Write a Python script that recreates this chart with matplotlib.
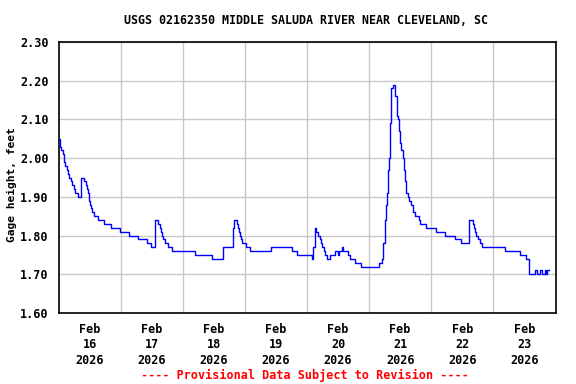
import matplotlib
matplotlib.use("Agg")
import matplotlib.pyplot as plt
import numpy as np

# hours since Feb 16 2026 00:00, gage height (ft) -- step changes
hours = [0.0, 0.4, 0.75, 1.15, 1.55, 1.95, 2.3, 2.7, 3.1, 3.5, 4.05, 4.65, 5.2, 6.0, 6.55,
         7.55, 8.8, 10.0, 10.65, 11.15, 11.5, 11.7, 12.05, 12.55, 13.05, 13.85, 15.15,
         17.6, 20.3, 23.8, 27.25, 30.75, 34.25, 35.75, 37.3, 38.5, 39.25, 39.65, 40.0,
         40.4, 41.0, 42.35, 43.9, 52.8, 59.35, 63.4, 63.7, 67.45, 67.85, 68.9, 69.5,
         69.8, 70.2, 70.55, 70.95, 72.3, 74.05, 82.05, 90.15, 92.1, 98.0, 98.5, 99.0,
         99.55, 100.35, 100.9, 101.5, 101.9, 102.4, 103.05, 103.65, 105.0, 106.9, 108.05,
         108.45, 109.5, 110.1, 111.65, 112.7, 114.65, 116.85, 123.75, 124.95, 125.35,
         125.95, 126.25, 126.65, 126.9, 127.3, 127.8, 128.2, 128.55, 129.05, 129.75,
         130.1, 130.75, 131.15, 131.65, 132.05, 132.45, 132.95, 133.3, 133.7, 134.25,
         134.85, 135.55, 136.2, 136.8, 137.85, 139.4, 139.8, 142.1, 146.0, 149.15,
         153.3, 155.5, 158.45, 160.15, 160.65, 161.05, 161.3, 161.95, 162.7, 163.65,
         172.65, 178.15, 180.75, 181.65, 184.25, 184.8, 186.15, 186.95, 188.1, 188.5,
         188.9, 189.65]
gage = [2.05, 2.04, 2.03, 2.02, 2.01, 2.00, 1.99, 1.98, 1.97, 1.96, 1.95, 1.94, 1.93, 1.92, 1.91,
        1.90, 1.95, 1.94, 1.93, 1.92, 1.91, 1.89, 1.88, 1.87, 1.86, 1.85, 1.84,
        1.83, 1.82, 1.81, 1.80, 1.79, 1.78, 1.77, 1.84, 1.83, 1.82, 1.81, 1.80,
        1.79, 1.78, 1.77, 1.76, 1.75, 1.74, 1.76, 1.77, 1.82, 1.84, 1.83, 1.82,
        1.81, 1.80, 1.79, 1.78, 1.77, 1.76, 1.77, 1.76, 1.75, 1.74, 1.77, 1.82,
        1.81, 1.80, 1.79, 1.78, 1.77, 1.76, 1.75, 1.74, 1.75, 1.76, 1.75,
        1.76, 1.77, 1.76, 1.75, 1.74, 1.73, 1.72, 1.73, 1.74, 1.78,
        1.79, 1.84, 1.88, 1.91, 1.97, 2.00, 2.09, 2.18, 2.19, 2.19,
        2.16, 2.11, 2.10, 2.07, 2.04, 2.02, 2.00, 1.97, 1.94, 1.91,
        1.90, 1.89, 1.88, 1.86, 1.85, 1.84, 1.83, 1.82, 1.81, 1.80,
        1.79, 1.78, 1.84, 1.83, 1.82, 1.81, 1.80, 1.79, 1.78, 1.77,
        1.76, 1.75, 1.74, 1.70, 1.71, 1.70, 1.71, 1.70, 1.71, 1.70,
        1.71, 1.71]

day_labels = ["Feb\n16\n2026", "Feb\n17\n2026", "Feb\n18\n2026", "Feb\n19\n2026",
              "Feb\n20\n2026", "Feb\n21\n2026", "Feb\n22\n2026", "Feb\n23\n2026"]
y_ticks = [1.60, 1.70, 1.80, 1.90, 2.00, 2.10, 2.20, 2.30]

mono = "DejaVu Sans Mono"
fig = plt.figure(figsize=(5.76, 3.84), dpi=100)
ax = fig.add_axes([58.5/576, 1-313/384, (555.5-58.5)/576, (313-42)/384])

ax.plot(hours, gage, color="#0000ff", lw=1.0, drawstyle="steps-post", zorder=3)

ax.set_xlim(0, 192)
ax.set_ylim(1.60, 2.30)
ax.set_yticks(y_ticks)
ax.set_yticklabels([f"{v:.2f}" for v in y_ticks], family=mono, fontweight="bold", fontsize=8.5)
ax.set_xticks([12 + 24*i for i in range(len(day_labels))])
ax.set_xticklabels(day_labels, family=mono, fontweight="bold", fontsize=8.5, linespacing=1.25)
ax.set_xticks([24*i for i in range(1, 8)], minor=True)
ax.tick_params(axis="both", which="both", length=0)
ax.tick_params(axis="y", pad=7)
ax.tick_params(axis="x", pad=7)
ax.grid(True, which="minor", axis="x", color="#c8c8c8", lw=1)
ax.grid(True, which="major", axis="y", color="#c8c8c8", lw=1)
ax.grid(False, which="major", axis="x")
for s in ax.spines.values():
    s.set_linewidth(1.2)
    s.set_color("black")

fig.text(12/576, 1-185/384, "Gage height, feet", family=mono, fontweight="bold",
         fontsize=8.1, rotation=90, ha="center", va="center")
fig.text(306/576, 1-20/384, "USGS 02162350 MIDDLE SALUDA RIVER NEAR CLEVELAND, SC",
         family=mono, fontweight="bold", fontsize=8.35, ha="center", va="center")
fig.text(305/576, 1-375/384, "---- Provisional Data Subject to Revision ----",
         family=mono, fontweight="bold", fontsize=8.5, ha="center", va="center", color="red")

fig.savefig("out.png", dpi=100)
